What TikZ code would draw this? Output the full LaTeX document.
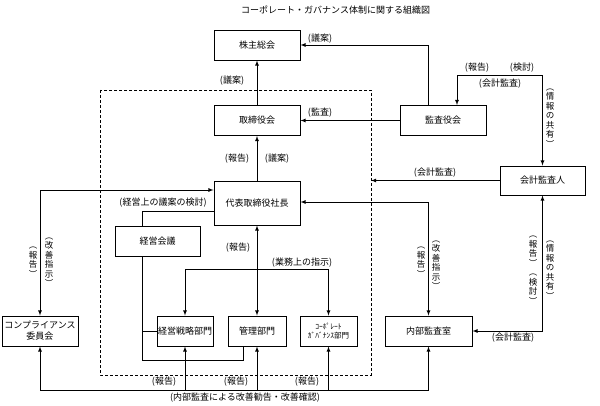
\documentclass[tikz,border=0pt]{standalone}
\usepackage{fontspec}
\setmainfont{Noto Sans CJK JP}
\usepackage{tikz}

\tikzset{
  box/.style={draw, line width=0.9pt, minimum width=86pt, minimum height=30pt,
    inner sep=1pt, align=center, font=\fontsize{9}{11}\selectfont},
  lbl/.style={inner sep=0pt, font=\fontsize{9}{11}\selectfont},
  vlbl/.style={inner sep=0pt, align=center, font=\fontsize{8.5}{9.5}\selectfont},
  conn/.style={line width=0.8pt}
}

\begin{document}
\begin{tikzpicture}[x=1pt, y=-1pt]
\useasboundingbox (0,0) rectangle (600,406);

\node[lbl, anchor=west] (title) at (241,10) {コーポレート・ガバナンス体制に関する組織図};

% boxes
\node[box] (kabu) at (257,45) {株主総会};
\node[box] (tori) at (257,120.5) {取締役会};
\node[box] (kansa) at (443,120.5) {監査役会};
\node[box, minimum height=44pt] (daihyo) at (257,203) {代表取締役社長};
\node[box, minimum width=85pt] (keiei) at (157.5,241) {経営会議};
\node[box, minimum width=85pt, minimum height=29pt] (kaikei) at (542.5,180.5) {会計監査人};
\node[box, minimum width=76pt] (comp) at (40,331) {コンプライアンス\\委員会};
\node[box, minimum width=56pt] (senryaku) at (185,331) {経営戦略部門};
\node[box, minimum width=58pt] (kanri) at (257,331) {管理部門};
\node[box, minimum width=57pt, font=\fontsize{7.5}{9.5}\selectfont] (cg) at (328.5,331) {ｺｰﾎﾟﾚｰﾄ\\ｶﾞﾊﾞﾅﾝｽ部門};
\node[box, minimum width=87pt] (naibu) at (428.5,331) {内部監査室};

% dashed frame
\draw[line width=0.8pt, dash pattern=on 3pt off 2pt] (100,90) rectangle (371,375);
\coordinate (frameNE) at (371,90);
\coordinate (bus) at (0,390);
\coordinate (keieiLeg) at ([xshift=-15pt]keiei.south);

% connectors
\draw[conn, -latex] (tori) -- (kabu);
\draw[conn, -latex] ([xshift=-15pt]kansa.north) |- (kabu.east);
\draw[conn, -latex] (kansa) -- (tori);
\draw[conn, -latex] (daihyo) -- (tori);
\draw[conn, latex-latex] ([xshift=14pt]kansa.north) -- ++(0,-30) -| (kaikei.north);
\draw[conn, -latex] (kaikei.west) -- (kaikei.west -| frameNE);
\draw[conn, latex-latex] (kaikei.south) |- (naibu.east);
\draw[conn, latex-latex] (naibu.north) |- ([yshift=1pt]daihyo.east);
\draw[conn, latex-latex] (comp.north) |- ([yshift=13pt]daihyo.west);
\draw[conn] ([xshift=-15pt]keiei.north) |- ([yshift=-8pt]daihyo.west);
\draw[conn] (keieiLeg) -- ++(0,104) -| ([xshift=-14pt]kanri.south);
\draw[conn] (senryaku.west) -- (senryaku.west -| keieiLeg);
\draw[conn, latex-latex] (daihyo) -- (kanri);
\draw[conn, latex-latex] (senryaku.north) -- ++(0,-46) -| (cg.north);
\draw[conn, latex-latex] (naibu.south) -- ++(0,44) -| (comp.south);
\draw[conn, -latex] (senryaku.south |- bus) -- (senryaku.south);
\draw[conn, -latex] (kanri.south |- bus) -- (kanri.south);
\draw[conn, -latex] (cg.south |- bus) -- (cg.south);

% labels
\node[lbl] (l1) at (232,81) {(議案)};
\node[lbl] (l2) at (320,39) {(議案)};
\node[lbl] (l3) at (320,113) {(監査)};
\node[lbl] (l4) at (237,159) {(報告)};
\node[lbl] (l5) at (277,159) {(議案)};
\node[lbl] (l6) at (477,68) {(報告)};
\node[lbl] (l7) at (522,68) {(検討)};
\node[lbl] (l8) at (500,84) {(会計監査)};
\node[lbl] (l9) at (435,173) {(会計監査)};
\node[lbl] (l10) at (163,203) {(経営上の議案の検討)};
\node[lbl] (l11) at (238,248) {(報告)};
\node[lbl] (l12) at (302,263) {(業務上の指示)};
\node[lbl] (l13) at (513,338) {(会計監査)};
\node[lbl] (l14) at (164,382) {(報告)};
\node[lbl] (l15) at (236,382) {(報告)};
\node[lbl] (l16) at (307,382) {(報告)};
\node[lbl] (l17) at (245,398) {(内部監査による改善勧告・改善確認)};

% vertical labels
\node[vlbl] (v1) at (550,118) {︵\\情\\報\\の\\共\\有\\︶};
\node[vlbl] (v2) at (533,270) {︵\\報\\告\\︶\\︵\\検\\討\\︶};
\node[vlbl] (v3) at (550,270) {︵\\情\\報\\の\\共\\有\\︶};
\node[vlbl] (v4) at (421,262) {︵\\報\\告\\︶};
\node[vlbl] (v5) at (436,265) {︵\\改\\善\\指\\示\\︶};
\node[vlbl] (v6) at (33,262) {︵\\報\\告\\︶};
\node[vlbl] (v7) at (49,262) {︵\\改\\善\\指\\示\\︶};

\end{tikzpicture}
\end{document}
